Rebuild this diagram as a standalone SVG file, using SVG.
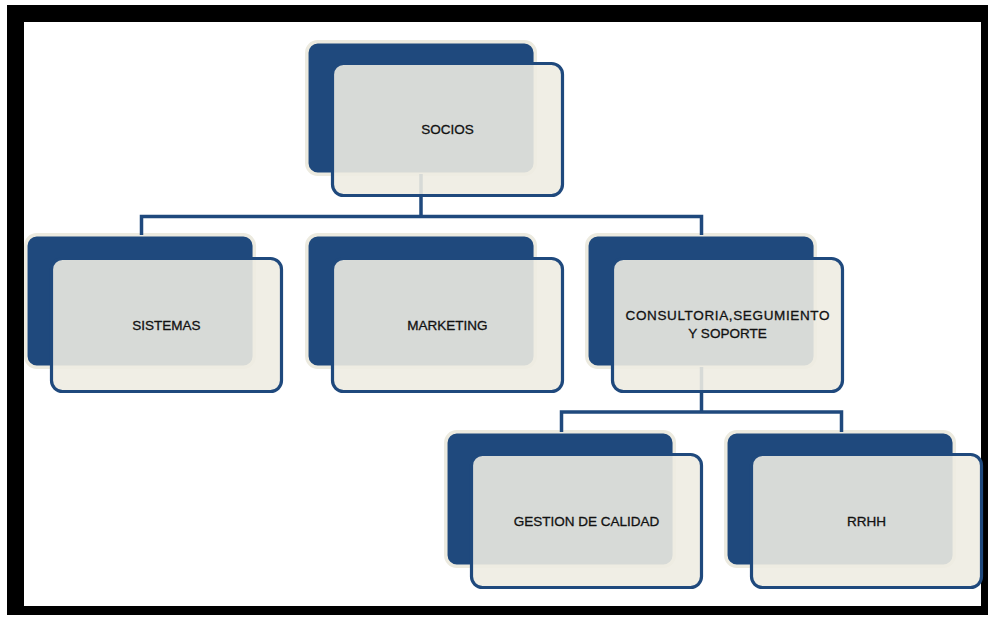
<svg xmlns="http://www.w3.org/2000/svg" width="990" height="619" viewBox="0 0 990 619">
<style>
.back{fill:#1F497D;stroke:#ECEADF;stroke-width:3.5}
.front{fill:#EEECE2;fill-opacity:0.89;stroke:#1F497D;stroke-width:3.2}
.conn{fill:none;stroke:#1F497D;stroke-width:3.5}
.lbl{font-family:"Liberation Sans",Arial,sans-serif;font-size:13.5px;fill:#111111;stroke:#111111;stroke-width:0.3;text-anchor:middle}
</style>
<rect x="0" y="0" width="990" height="619" fill="#ffffff"/>
<rect x="7" y="5" width="981" height="610" fill="#000000"/>
<rect x="24" y="22" width="957" height="584" fill="#ffffff"/>
<g id="backs">
<rect class="back" x="306.8" y="41.8" width="228.5" height="132.5" rx="11"/>
<rect class="back" x="25.8" y="234.8" width="228.5" height="132.5" rx="11"/>
<rect class="back" x="306.8" y="234.8" width="228.5" height="132.5" rx="11"/>
<rect class="back" x="586.8" y="234.8" width="228.5" height="132.5" rx="11"/>
<rect class="back" x="445.8" y="431.8" width="228.5" height="134.5" rx="11"/>
<rect class="back" x="725.8" y="431.8" width="228.5" height="134.5" rx="11"/>
</g>
<g id="connectors">
<path class="conn" d="M421 174 V216.5 M141.5 235 V216.5 H701.5 V235"/>
<path class="conn" d="M701.5 367 V412 M561.5 432 V412 H841.5 V432"/>
</g>
<g id="socios">
<rect class="front" x="332.5" y="63.5" width="230" height="132" rx="11"/>
<text class="lbl" x="447.5" y="134">SOCIOS</text>
</g>
<g id="sistemas">
<rect class="front" x="51.5" y="258.5" width="230" height="133" rx="11"/>
<text class="lbl" x="166.5" y="329.5">SISTEMAS</text>
</g>
<g id="marketing">
<rect class="front" x="332.5" y="258.5" width="230" height="133" rx="11"/>
<text class="lbl" x="447.5" y="329.5">MARKETING</text>
</g>
<g id="consultoria">
<rect class="front" x="612.5" y="258.5" width="230" height="133" rx="11"/>
<text class="lbl" x="727.5" y="320" textLength="204" lengthAdjust="spacing">CONSULTORIA,SEGUMIENTO</text>
<text class="lbl" x="727.5" y="338">Y SOPORTE</text>
</g>
<g id="gestion">
<rect class="front" x="471.5" y="454.5" width="230" height="133" rx="11"/>
<text class="lbl" x="586.5" y="525.5">GESTION DE CALIDAD</text>
</g>
<g id="rrhh">
<rect class="front" x="751.5" y="454.5" width="230" height="133" rx="11"/>
<text class="lbl" x="866.5" y="525.5">RRHH</text>
</g>
</svg>
